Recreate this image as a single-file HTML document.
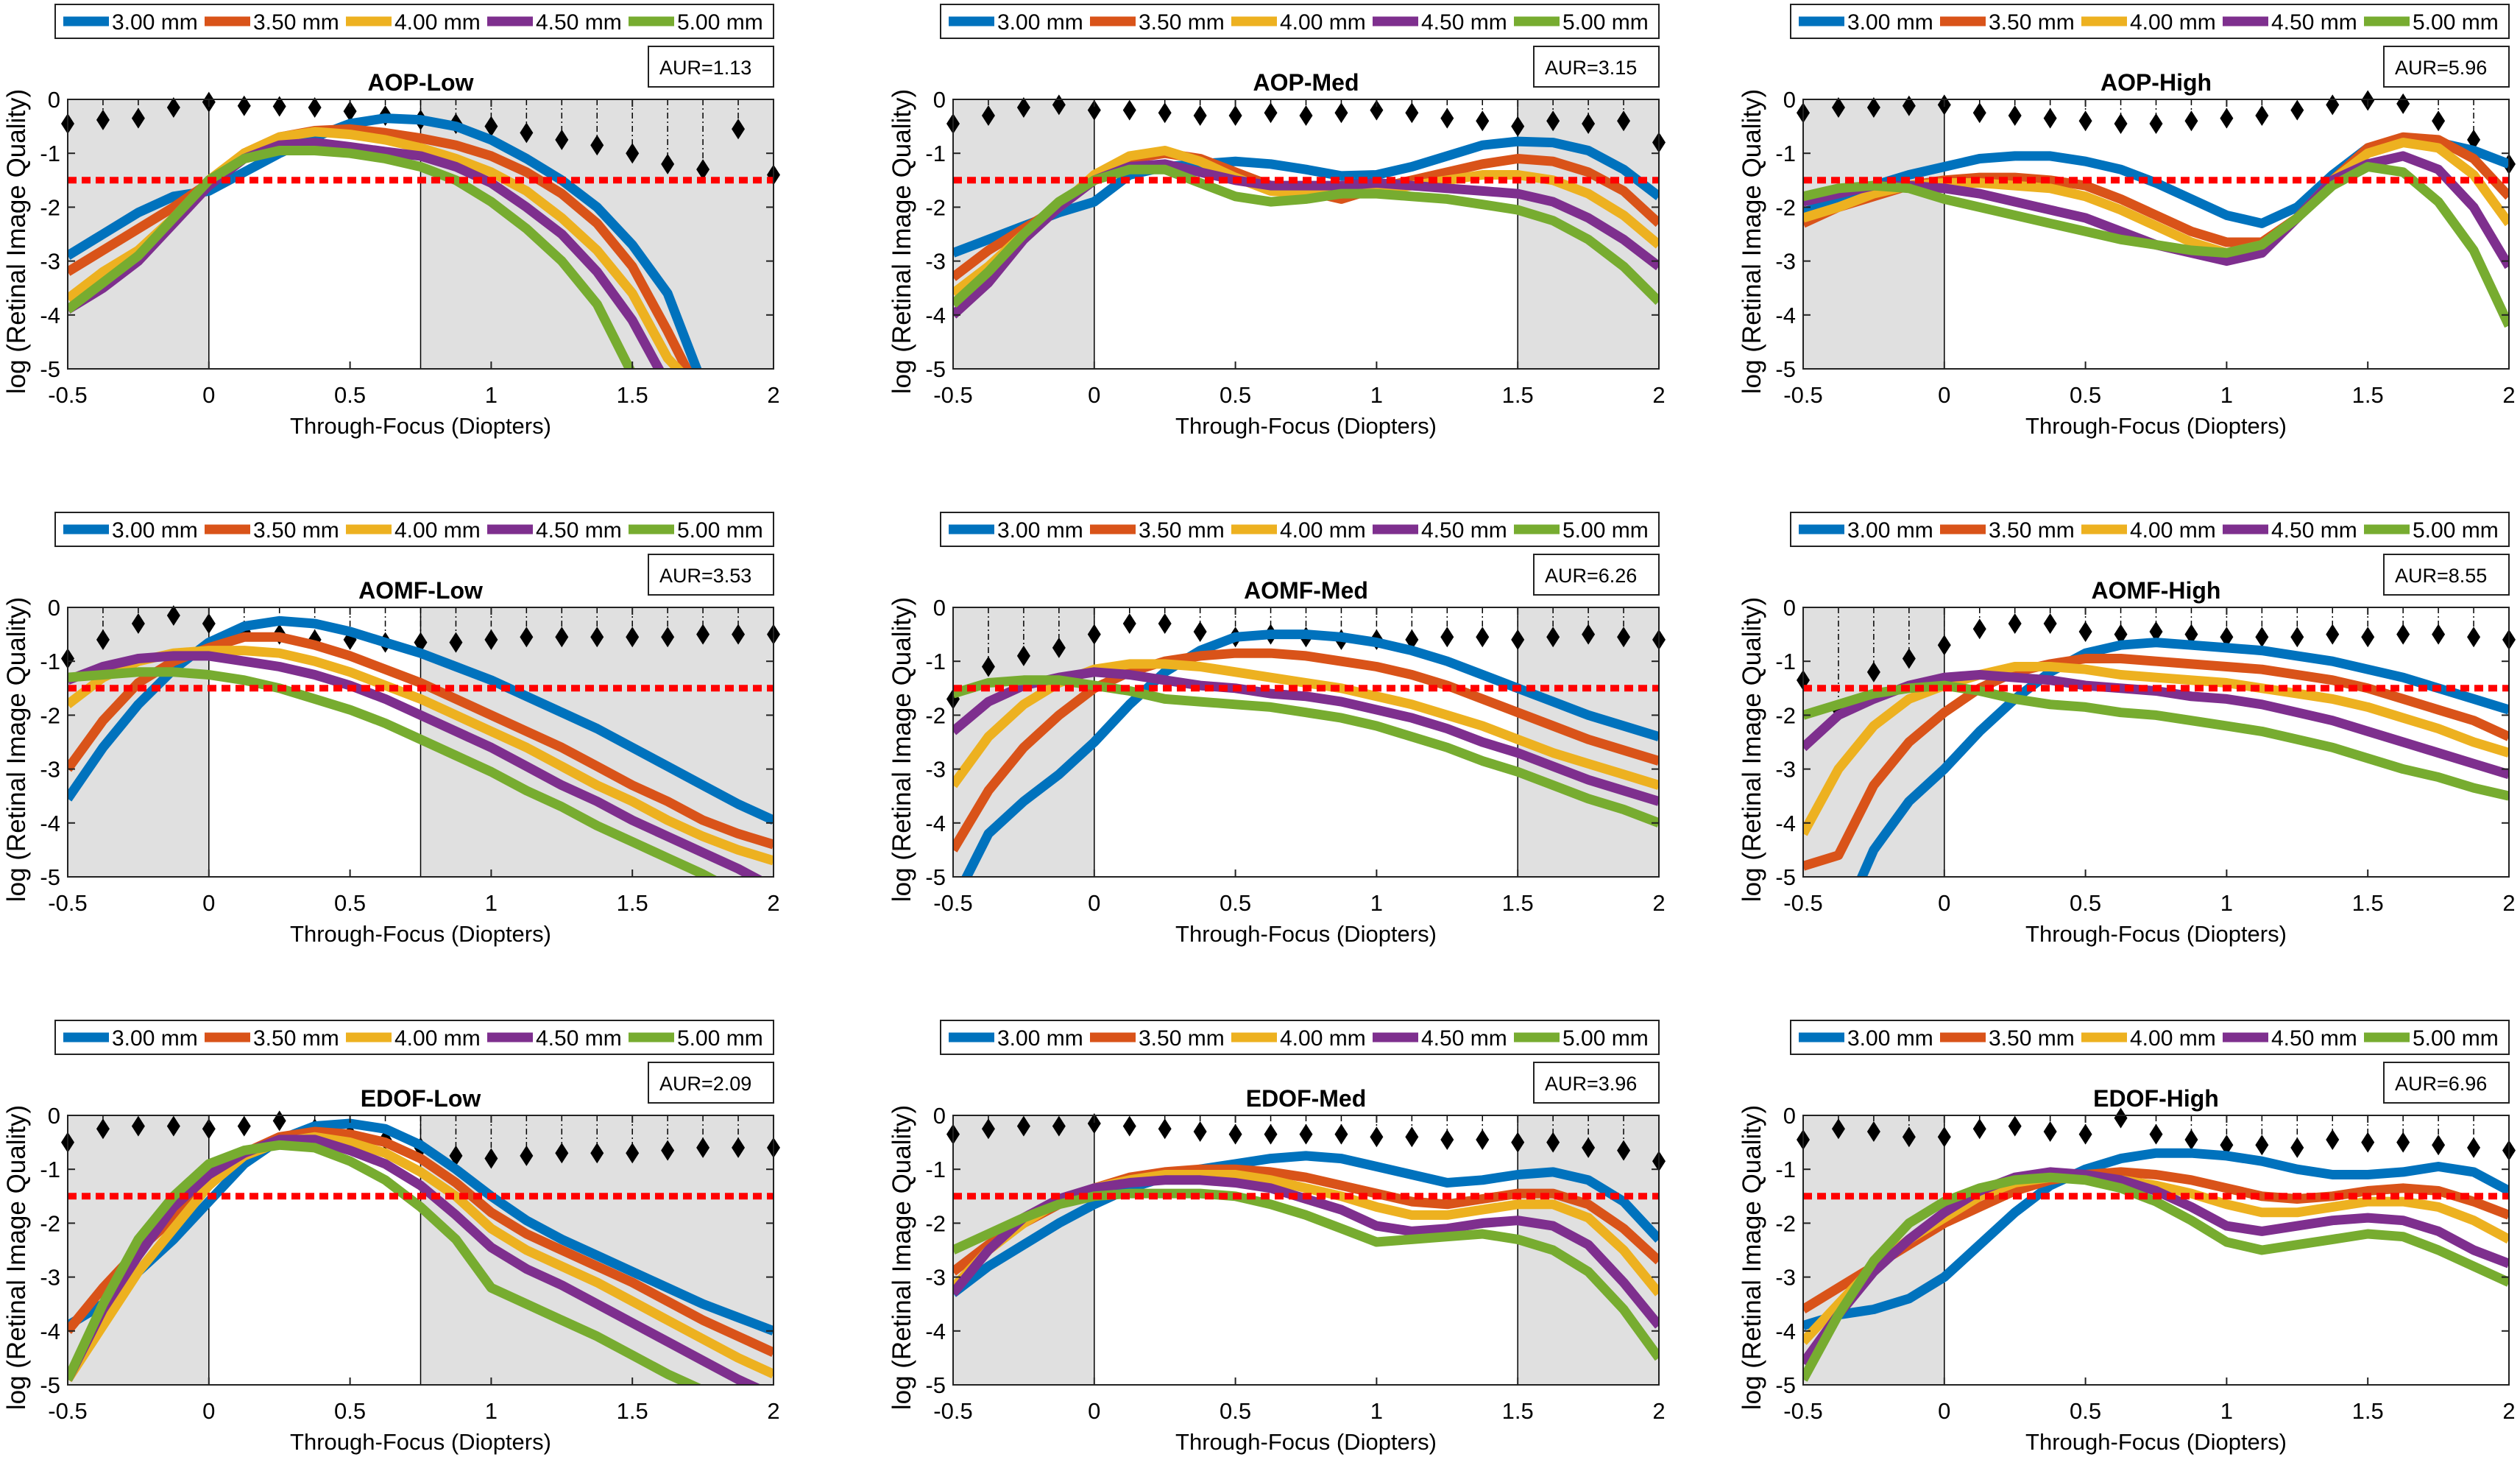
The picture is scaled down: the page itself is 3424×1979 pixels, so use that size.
<!DOCTYPE html>
<html><head><meta charset="utf-8"><style>
html,body{margin:0;padding:0;background:#fff;}
svg{display:block;font-family:"Liberation Sans",sans-serif;}
</style></head><body>
<svg id="fig" width="3424" height="1979" viewBox="0 0 3424 1979" xmlns="http://www.w3.org/2000/svg"></svg>
<script>
const xs = [-0.5,-0.375,-0.25,-0.125,0,0.125,0.25,0.375,0.5,0.625,0.75,0.875,1,1.125,1.25,1.375,1.5,1.625,1.75,1.875,2];
const seriesNames = ["3.00 mm","3.50 mm","4.00 mm","4.50 mm","5.00 mm"];
const titles = ["AOP-Low","AOP-Med","AOP-High","AOMF-Low","AOMF-Med","AOMF-High","EDOF-Low","EDOF-Med","EDOF-High"];
const aur = ["1.13","3.15","5.96","3.53","6.26","8.55","2.09","3.96","6.96"];
const grayRight = [0.75,1.5,null,0.75,1.5,null,0.75,1.5,null];
const xTicks = [-0.5,0,0.5,1,1.5,2];
const xTickLabels = ["-0.5","0","0.5","1","1.5","2"];
const yTicks = [0,-1,-2,-3,-4,-5];
const threshold = -1.5;

const aopLow = [
[-2.9,-2.5,-2.1,-1.8,-1.7,-1.35,-1.0,-0.7,-0.45,-0.35,-0.38,-0.5,-0.75,-1.1,-1.5,-2.0,-2.7,-3.6,-5.3,null,null],
[-3.2,-2.8,-2.4,-2.0,-1.55,-1.0,-0.7,-0.58,-0.55,-0.62,-0.72,-0.85,-1.05,-1.35,-1.75,-2.3,-3.1,-4.3,-5.6,null,null],
[-3.7,-3.2,-2.8,-2.2,-1.5,-1.0,-0.7,-0.6,-0.65,-0.75,-0.9,-1.1,-1.35,-1.7,-2.2,-2.8,-3.6,-4.8,-5.5,null,null],
[-3.9,-3.5,-3.0,-2.3,-1.6,-1.1,-0.85,-0.8,-0.88,-0.97,-1.05,-1.25,-1.55,-2.0,-2.5,-3.2,-4.1,-5.3,null,null,null],
[-3.9,-3.4,-2.9,-2.2,-1.5,-1.1,-0.95,-0.95,-1.0,-1.1,-1.25,-1.5,-1.9,-2.4,-3.0,-3.8,-5.1,-5.6,null,null,null]];
const aopLowMarks = [-0.45,-0.38,-0.35,-0.15,-0.05,-0.12,-0.13,-0.15,-0.22,-0.3,-0.38,-0.45,-0.5,-0.62,-0.75,-0.85,-1.0,-1.2,-1.3,-0.55,-1.4];

const aopMed = [
[-2.85,-2.6,-2.35,-2.1,-1.9,-1.4,-1.25,-1.2,-1.15,-1.2,-1.3,-1.42,-1.4,-1.25,-1.05,-0.85,-0.78,-0.8,-0.95,-1.3,-1.8],
[-3.3,-2.8,-2.4,-2.0,-1.5,-1.1,-1.0,-1.1,-1.35,-1.6,-1.7,-1.85,-1.65,-1.5,-1.35,-1.2,-1.1,-1.15,-1.35,-1.7,-2.3],
[-3.6,-3.1,-2.5,-2.0,-1.4,-1.05,-0.95,-1.15,-1.45,-1.7,-1.75,-1.75,-1.7,-1.6,-1.5,-1.4,-1.4,-1.5,-1.75,-2.15,-2.7],
[-4.0,-3.4,-2.6,-2.0,-1.5,-1.25,-1.2,-1.35,-1.5,-1.6,-1.6,-1.6,-1.55,-1.6,-1.65,-1.7,-1.75,-1.9,-2.2,-2.6,-3.1],
[-3.8,-3.2,-2.5,-1.9,-1.5,-1.3,-1.3,-1.55,-1.8,-1.9,-1.85,-1.75,-1.75,-1.8,-1.85,-1.95,-2.05,-2.25,-2.6,-3.1,-3.75]];
const aopMedMarks = [-0.45,-0.3,-0.15,-0.1,-0.2,-0.2,-0.25,-0.3,-0.3,-0.25,-0.3,-0.25,-0.2,-0.25,-0.35,-0.4,-0.5,-0.4,-0.45,-0.4,-0.8];

const aopHigh = [
[-2.1,-1.85,-1.6,-1.4,-1.25,-1.1,-1.05,-1.05,-1.15,-1.3,-1.55,-1.85,-2.15,-2.3,-2.0,-1.4,-0.9,-0.75,-0.8,-0.95,-1.2],
[-2.3,-2.0,-1.8,-1.6,-1.5,-1.45,-1.45,-1.5,-1.6,-1.85,-2.15,-2.45,-2.65,-2.65,-2.2,-1.5,-0.9,-0.7,-0.75,-1.1,-1.8],
[-2.2,-2.0,-1.75,-1.6,-1.55,-1.55,-1.6,-1.65,-1.8,-2.05,-2.35,-2.65,-2.85,-2.7,-2.2,-1.5,-1.0,-0.8,-0.9,-1.4,-2.3],
[-1.9,-1.75,-1.6,-1.6,-1.65,-1.75,-1.9,-2.05,-2.2,-2.45,-2.7,-2.85,-3.0,-2.85,-2.2,-1.5,-1.2,-1.05,-1.3,-2.0,-3.1],
[-1.8,-1.65,-1.6,-1.65,-1.85,-2.0,-2.15,-2.3,-2.45,-2.6,-2.7,-2.8,-2.85,-2.7,-2.2,-1.6,-1.25,-1.35,-1.9,-2.8,-4.2]];
const aopHighMarks = [-0.25,-0.15,-0.15,-0.12,-0.1,-0.25,-0.3,-0.35,-0.4,-0.45,-0.45,-0.4,-0.35,-0.3,-0.2,-0.1,-0.02,-0.08,-0.4,-0.75,-1.2];

const aomfLow = [
[-3.55,-2.6,-1.8,-1.15,-0.65,-0.35,-0.25,-0.3,-0.45,-0.65,-0.85,-1.1,-1.35,-1.65,-1.95,-2.25,-2.6,-2.95,-3.3,-3.65,-3.95],
[-3.0,-2.1,-1.4,-1.0,-0.75,-0.55,-0.55,-0.7,-0.9,-1.15,-1.4,-1.7,-2.0,-2.3,-2.6,-2.95,-3.3,-3.6,-3.95,-4.2,-4.4],
[-1.8,-1.3,-1.0,-0.85,-0.8,-0.8,-0.85,-1.0,-1.2,-1.45,-1.7,-2.0,-2.3,-2.6,-2.95,-3.3,-3.6,-3.95,-4.25,-4.5,-4.7],
[-1.35,-1.1,-0.95,-0.9,-0.9,-1.0,-1.1,-1.25,-1.45,-1.7,-2.0,-2.3,-2.6,-2.95,-3.3,-3.6,-3.95,-4.25,-4.55,-4.85,-5.2],
[-1.3,-1.25,-1.2,-1.2,-1.25,-1.35,-1.5,-1.7,-1.9,-2.15,-2.45,-2.75,-3.05,-3.4,-3.7,-4.05,-4.35,-4.65,-4.95,-5.3,null]];
const aomfLowMarks = [-0.95,-0.6,-0.3,-0.15,-0.3,-0.45,-0.5,-0.6,-0.6,-0.65,-0.65,-0.65,-0.6,-0.55,-0.55,-0.55,-0.55,-0.55,-0.5,-0.5,-0.5];

const aomfMed = [
[-5.5,-4.2,-3.6,-3.1,-2.5,-1.8,-1.2,-0.8,-0.55,-0.5,-0.5,-0.55,-0.65,-0.8,-1.0,-1.25,-1.5,-1.75,-2.0,-2.2,-2.4],
[-4.5,-3.4,-2.6,-2.0,-1.5,-1.2,-1.0,-0.9,-0.85,-0.85,-0.9,-1.0,-1.1,-1.25,-1.45,-1.7,-1.95,-2.2,-2.45,-2.65,-2.85],
[-3.3,-2.4,-1.8,-1.4,-1.15,-1.05,-1.05,-1.1,-1.2,-1.3,-1.4,-1.5,-1.65,-1.8,-2.0,-2.2,-2.45,-2.7,-2.9,-3.1,-3.3],
[-2.3,-1.75,-1.45,-1.3,-1.2,-1.25,-1.35,-1.45,-1.5,-1.6,-1.65,-1.75,-1.9,-2.05,-2.25,-2.5,-2.7,-2.95,-3.2,-3.4,-3.6],
[-1.6,-1.4,-1.35,-1.35,-1.45,-1.55,-1.7,-1.75,-1.8,-1.85,-1.95,-2.05,-2.2,-2.4,-2.6,-2.85,-3.05,-3.3,-3.55,-3.75,-4.0]];
const aomfMedMarks = [-1.7,-1.1,-0.9,-0.75,-0.5,-0.3,-0.3,-0.45,-0.55,-0.5,-0.55,-0.6,-0.6,-0.6,-0.55,-0.55,-0.6,-0.55,-0.5,-0.55,-0.6];

const aomfHigh = [
[-6,-6,-4.5,-3.6,-3.0,-2.3,-1.7,-1.2,-0.85,-0.7,-0.65,-0.7,-0.75,-0.8,-0.9,-1.0,-1.15,-1.3,-1.5,-1.7,-1.9],
[-4.8,-4.6,-3.3,-2.5,-1.95,-1.5,-1.2,-1.05,-0.95,-0.95,-1.0,-1.05,-1.1,-1.15,-1.25,-1.35,-1.5,-1.7,-1.9,-2.1,-2.4],
[-4.2,-3.0,-2.2,-1.7,-1.45,-1.25,-1.1,-1.1,-1.15,-1.25,-1.3,-1.35,-1.4,-1.5,-1.6,-1.7,-1.85,-2.05,-2.25,-2.5,-2.7],
[-2.6,-2.0,-1.7,-1.45,-1.3,-1.25,-1.3,-1.35,-1.45,-1.5,-1.55,-1.65,-1.7,-1.8,-1.95,-2.1,-2.3,-2.5,-2.7,-2.9,-3.1],
[-2.0,-1.8,-1.6,-1.5,-1.45,-1.55,-1.7,-1.8,-1.85,-1.95,-2.0,-2.1,-2.2,-2.3,-2.45,-2.6,-2.8,-3.0,-3.15,-3.35,-3.5]];
const aomfHighMarks = [-1.35,-1.9,-1.2,-0.95,-0.7,-0.4,-0.3,-0.3,-0.45,-0.5,-0.45,-0.5,-0.55,-0.55,-0.55,-0.5,-0.55,-0.5,-0.5,-0.55,-0.6];

const edofLow = [
[-3.9,-3.5,-2.9,-2.3,-1.6,-0.9,-0.45,-0.2,-0.15,-0.25,-0.55,-1.0,-1.5,-1.95,-2.3,-2.6,-2.9,-3.2,-3.5,-3.75,-4.0],
[-4.0,-3.2,-2.5,-1.9,-1.3,-0.7,-0.4,-0.3,-0.35,-0.5,-0.8,-1.25,-1.8,-2.2,-2.5,-2.8,-3.1,-3.45,-3.8,-4.1,-4.4],
[-4.9,-3.9,-2.9,-2.1,-1.3,-0.75,-0.5,-0.4,-0.5,-0.7,-1.05,-1.5,-2.1,-2.5,-2.8,-3.1,-3.45,-3.8,-4.15,-4.5,-4.8],
[-4.9,-3.6,-2.6,-1.7,-1.1,-0.7,-0.45,-0.45,-0.65,-0.9,-1.3,-1.85,-2.45,-2.85,-3.15,-3.5,-3.85,-4.2,-4.55,-4.9,-5.2],
[-4.9,-3.5,-2.3,-1.5,-0.9,-0.65,-0.55,-0.6,-0.85,-1.2,-1.7,-2.3,-3.2,-3.5,-3.8,-4.1,-4.45,-4.8,-5.1,-5.5,null]];
const edofLowMarks = [-0.5,-0.25,-0.2,-0.2,-0.25,-0.2,-0.1,-0.25,-0.35,-0.45,-0.6,-0.75,-0.8,-0.75,-0.7,-0.7,-0.7,-0.65,-0.6,-0.6,-0.6];

const edofMed = [
[-3.3,-2.8,-2.4,-2.0,-1.65,-1.35,-1.15,-1.0,-0.9,-0.8,-0.75,-0.8,-0.95,-1.1,-1.25,-1.2,-1.1,-1.05,-1.2,-1.6,-2.3],
[-2.9,-2.4,-2.0,-1.65,-1.35,-1.15,-1.05,-1.0,-1.0,-1.05,-1.15,-1.3,-1.45,-1.6,-1.65,-1.55,-1.45,-1.45,-1.65,-2.1,-2.7],
[-3.2,-2.5,-2.0,-1.6,-1.35,-1.2,-1.1,-1.1,-1.1,-1.2,-1.35,-1.5,-1.7,-1.85,-1.85,-1.75,-1.65,-1.65,-1.9,-2.5,-3.3],
[-3.3,-2.5,-1.9,-1.55,-1.35,-1.25,-1.2,-1.2,-1.25,-1.35,-1.55,-1.75,-2.05,-2.15,-2.1,-2.0,-1.95,-2.05,-2.4,-3.1,-3.9],
[-2.5,-2.2,-1.9,-1.65,-1.5,-1.45,-1.45,-1.45,-1.5,-1.65,-1.85,-2.1,-2.35,-2.3,-2.25,-2.2,-2.3,-2.5,-2.9,-3.6,-4.5]];
const edofMedMarks = [-0.35,-0.25,-0.2,-0.2,-0.15,-0.2,-0.25,-0.3,-0.35,-0.35,-0.35,-0.35,-0.4,-0.4,-0.45,-0.45,-0.5,-0.5,-0.6,-0.65,-0.85];

const edofHigh = [
[-3.9,-3.7,-3.6,-3.4,-3.0,-2.4,-1.8,-1.3,-1.0,-0.8,-0.7,-0.7,-0.75,-0.85,-1.0,-1.1,-1.1,-1.05,-0.95,-1.05,-1.4],
[-3.6,-3.2,-2.8,-2.4,-2.0,-1.7,-1.4,-1.2,-1.1,-1.05,-1.1,-1.2,-1.35,-1.5,-1.55,-1.5,-1.4,-1.35,-1.4,-1.6,-1.85],
[-4.2,-3.5,-2.8,-2.3,-1.9,-1.5,-1.25,-1.15,-1.15,-1.2,-1.3,-1.45,-1.65,-1.8,-1.8,-1.7,-1.6,-1.6,-1.7,-1.95,-2.3],
[-4.6,-3.7,-2.9,-2.3,-1.8,-1.4,-1.15,-1.05,-1.1,-1.2,-1.4,-1.7,-2.05,-2.15,-2.05,-1.95,-1.9,-1.95,-2.15,-2.5,-2.75],
[-4.9,-3.7,-2.7,-2.0,-1.6,-1.35,-1.2,-1.15,-1.2,-1.35,-1.6,-1.95,-2.35,-2.5,-2.4,-2.3,-2.2,-2.25,-2.5,-2.8,-3.1]];
const edofHighMarks = [-0.45,-0.25,-0.3,-0.4,-0.4,-0.25,-0.2,-0.3,-0.35,-0.05,-0.35,-0.45,-0.55,-0.55,-0.6,-0.45,-0.5,-0.5,-0.55,-0.6,-0.65];

const panelSeries = [aopLow,aopMed,aopHigh,aomfLow,aomfMed,aomfHigh,edofLow,edofMed,edofHigh];
const panelMarks = [aopLowMarks,aopMedMarks,aopHighMarks,aomfLowMarks,aomfMedMarks,aomfHighMarks,edofLowMarks,edofMedMarks,edofHighMarks];

const colors = ["#0072BD","#D95319","#EDB120","#7E2F8E","#77AC30"];
const colLeft = [92,1295,2450], rowTop = [135,825,1515], W = 959, H = 366;
const NS = "http://www.w3.org/2000/svg";
const svg = document.getElementById('fig');
function mk(tag, attrs, parent){
  const e = document.createElementNS(NS, tag);
  for (const k in attrs) e.setAttribute(k, attrs[k]);
  (parent||svg).appendChild(e); return e;
}
for (let p=0;p<9;p++){
  const L = colLeft[p%3], T = rowTop[Math.floor(p/3)], R = L+W, B = T+H;
  const sx = v => L + (v+0.5)/2.5*W;
  const sy = v => T + (0-v)/5*H;
  const g = mk('g',{});
  
  
  const lg = mk('g',{},g);
  
  
  mk('rect',{x:L-17,y:T-129,width:W+17,height:46,fill:'#fff',stroke:'#222','stroke-width':2},lg);
  for (let s=0;s<5;s++){
    const ex = L - 6 + s*192;
    const en = mk('g',{},lg);
    
    
    mk('line',{x1:ex,x2:ex+62,y1:T-106,y2:T-106,stroke:colors[s],'stroke-width':13},en);
    const t = mk('text',{x:ex+66,y:T-95,'font-size':30,fill:'#000'},en);
    t.textContent = seriesNames[s];
  }
  const ab = mk('g',{},g);
  
  
  mk('rect',{x:R-170,y:T-72,width:170,height:55,fill:'#fff',stroke:'#222','stroke-width':2},ab);
  const at = mk('text',{x:R-155,y:T-34,'font-size':27,fill:'#000'},ab);
  at.textContent = 'AUR=' + aur[p];
  const tt = mk('text',{x:(L+R)/2,y:T-12,'font-size':32,'font-weight':'bold','text-anchor':'middle'},g);
  
  
  tt.textContent = titles[p];
  mk('rect',{x:L,y:T,width:W,height:H,fill:'#fff'},g);
  const sh1 = mk('rect',{x:sx(-0.5),y:T,width:sx(0)-sx(-0.5),height:H,fill:'#e0e0e0'},g);
  
  
  mk('line',{x1:sx(0),x2:sx(0),y1:T,y2:B,stroke:'#000','stroke-width':1.5},g);
  if (grayRight[p]!==null){
    const sh2 = mk('rect',{x:sx(grayRight[p]),y:T,width:sx(2)-sx(grayRight[p]),height:H,fill:'#e0e0e0'},g);
    
    
    mk('line',{x1:sx(grayRight[p]),x2:sx(grayRight[p]),y1:T,y2:B,stroke:'#000','stroke-width':1.5},g);
  }
  const cp = mk('clipPath',{id:'clip'+p},g);
  mk('rect',{x:L,y:T,width:W,height:H},cp);
  const marks = panelMarks[p];
  const mg = mk('g',{},g);
  
  
  for (let i=0;i<xs.length;i++){
    const cx = sx(xs[i]), cy = sy(marks[i]);
    if (cy - T > 16) mk('line',{x1:cx,x2:cx,y1:T,y2:cy,stroke:'#000','stroke-width':1.5,'stroke-dasharray':'8 4 2 4'},mg);
    const d = mk('path',{d:`M${cx} ${cy-14}L${cx+9} ${cy}L${cx} ${cy+14}L${cx-9} ${cy}Z`,fill:'#000'},mg);
    
    
  }
  const series = panelSeries[p];
  for (let s=0;s<5;s++){
    let dstr = '', started=false;
    for (let i=0;i<xs.length;i++){
      const v = series[s][i];
      if (v===null){ started=false; continue; }
      dstr += (started?'L':'M') + sx(xs[i]).toFixed(1) + ' ' + sy(v).toFixed(1);
      started = true;
    }
    const path = mk('path',{d:dstr,fill:'none',stroke:colors[s],'stroke-width':13,'stroke-linejoin':'round','clip-path':'url(#clip'+p+')'},g);
    
    
  }
  const th = mk('line',{x1:L,x2:R,y1:sy(threshold),y2:sy(threshold),stroke:'#ff0000','stroke-width':9,'stroke-dasharray':'12 7'},g);
  
  
  const box = mk('rect',{x:L,y:T,width:W,height:H,fill:'none',stroke:'#222','stroke-width':2},g);
  
  
  for (let k=0;k<xTicks.length;k++){
    const x = sx(xTicks[k]);
    mk('line',{x1:x,x2:x,y1:B,y2:B-10,stroke:'#222','stroke-width':2},g);
    mk('line',{x1:x,x2:x,y1:T,y2:T+10,stroke:'#222','stroke-width':2},g);
    const tl = mk('text',{x:x,y:B+46,'font-size':31,'text-anchor':'middle'},g);
    
    
    tl.textContent = xTickLabels[k];
  }
  for (let k=0;k<yTicks.length;k++){
    const y = sy(yTicks[k]);
    mk('line',{x1:L,x2:L+10,y1:y,y2:y,stroke:'#222','stroke-width':2},g);
    mk('line',{x1:R,x2:R-10,y1:y,y2:y,stroke:'#222','stroke-width':2},g);
    const yl = mk('text',{x:L-10,y:y+11,'font-size':31,'text-anchor':'end'},g);
    
    
    yl.textContent = String(yTicks[k]);
  }
  const xl = mk('text',{x:(L+R)/2,y:B+88,'font-size':31,'text-anchor':'middle'},g);
  
  
  xl.textContent = 'Through-Focus (Diopters)';
  const yc = (T+B)/2 + 10;
  const yt = mk('text',{x:L-58,y:yc,'font-size':35,'text-anchor':'middle',transform:`rotate(-90 ${L-58} ${yc})`},g);
  
  
  yt.textContent = 'log (Retinal Image Quality)';
}
</script>
</body></html>
